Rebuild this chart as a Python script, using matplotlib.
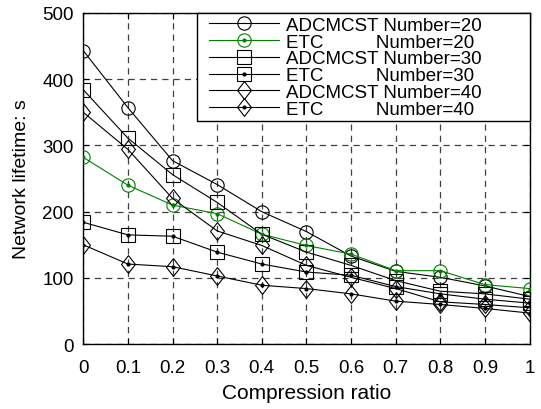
import matplotlib
matplotlib.use("Agg")
import matplotlib.pyplot as plt
from matplotlib.path import Path
from matplotlib.lines import Line2D
from matplotlib.legend_handler import HandlerTuple, HandlerLine2D

plt.rcParams['font.family'] = ['Liberation Sans', 'DejaVu Sans']

# Compression ratio on the x axis
ratio = [0, 0.1, 0.2, 0.3, 0.4, 0.5, 0.6, 0.7, 0.8, 0.9, 1.0]

# Network lifetime (s) for each algorithm / node count
adcmcst_20 = [443, 357, 277, 241, 200, 170, 133, 110, 101, 88, 72]
etc_20     = [282, 240, 210, 197, 166, 149, 136, 111, 111, 90, 84]
adcmcst_30 = [384, 311, 256, 214, 166, 139, 119, 96, 80, 76, 68]
etc_30     = [184, 165, 163, 139, 121, 109, 104, 87, 76, 68, 62]
adcmcst_40 = [350, 294, 220, 171, 149, 119, 101, 84, 64, 60, 55]
etc_40     = [150, 121, 117, 103, 89, 84, 76, 65, 60, 54, 47]

labels = ["ADCMCST Number=20", "ETC          Number=20",
          "ADCMCST Number=30", "ETC          Number=30",
          "ADCMCST Number=40", "ETC          Number=40"]

xticks = [0, 0.1, 0.2, 0.3, 0.4, 0.5, 0.6, 0.7, 0.8, 0.9, 1]
xticklabels = ["0", "0.1", "0.2", "0.3", "0.4", "0.5", "0.6", "0.7", "0.8", "0.9", "1"]
yticks = [0, 100, 200, 300, 400, 500]

green = (0, 0.5, 0)
diamond = Path([(0, 1), (0.78, 0), (0, -1), (-0.78, 0), (0, 1)],
               [Path.MOVETO, Path.LINETO, Path.LINETO, Path.LINETO, Path.CLOSEPOLY])

series = [
    (adcmcst_20, 'o', 9.6, 'black', False),
    (etc_20, 'o', 9.6, green, True),
    (adcmcst_30, 's', 10, 'black', False),
    (etc_30, 's', 10, 'black', True),
    (adcmcst_40, diamond, 12.8, 'black', False),
    (etc_40, diamond, 12.8, 'black', True),
]

fig = plt.figure(figsize=(5.41, 4.10), dpi=100)
ax = fig.add_axes([0.154, 0.158, 0.8248, 0.808])

handles = []
for values, marker, size, color, dotted in series:
    line, = ax.plot(ratio, values, color=color, linewidth=0.8, marker=marker,
                    markersize=size, markerfacecolor='none',
                    markeredgecolor=color, markeredgewidth=0.8, zorder=3)
    if dotted:
        dot, = ax.plot(ratio, values, linestyle='none', marker='o',
                       markersize=2.0, color=color, zorder=4)
        handles.append((line, dot))
    else:
        handles.append(line)

ax.set_xlim(0, 1)
ax.set_ylim(0, 500)
ax.set_xticks(xticks)
ax.set_xticklabels(xticklabels)
ax.set_yticks(yticks)
ax.tick_params(direction='in', length=4, width=0.8, labelsize=13.5,
               top=True, right=True, colors='black')
ax.tick_params(axis='x', pad=11)
ax.tick_params(axis='y', pad=7)
ax.grid(True, color='0.25', linestyle=(0, (5, 4)), linewidth=0.9)
ax.set_axisbelow(True)
for sp in ax.spines.values():
    sp.set_linewidth(1.0)
    sp.set_color('black')

ax.set_xlabel("Compression ratio", fontsize=15, labelpad=5)
ax.set_ylabel("Network lifetime: s", fontsize=14, labelpad=9)

leg = ax.legend(handles, labels, loc='upper right',
                bbox_to_anchor=(0.255, 0.0, 0.745, 1.0), mode='expand',
                borderaxespad=0, fontsize=13.5, fancybox=False, framealpha=1,
                edgecolor='black', handlelength=4.18, handletextpad=0.37,
                labelspacing=-0.02, borderpad=0.2,
                handler_map={Line2D: HandlerLine2D(xpad=0.44),
                             tuple: HandlerTuple(ndivide=1, pad=0, xpad=0.44)})
leg.get_frame().set_linewidth(1.0)
leg.set_zorder(10)

fig.savefig("out.png", dpi=100)
